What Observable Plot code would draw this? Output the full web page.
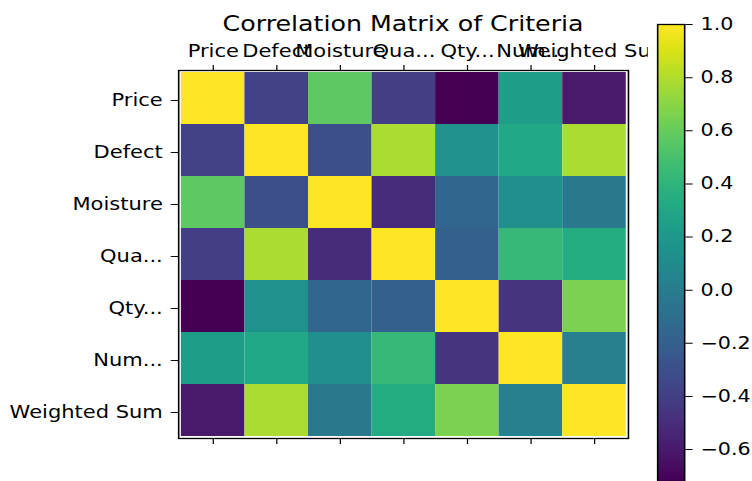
<!DOCTYPE html>
<html>
<head>
<meta charset="utf-8">
<script src="https://cdn.jsdelivr.net/npm/d3@7"></script>
<script src="https://cdn.jsdelivr.net/npm/@observablehq/plot@0.6"></script>
<style>
  html, body { margin: 0; padding: 0; background: white; overflow: hidden; }
  #fig { position: relative; width: 616px; height: 481px; transform: scale(1.2222, 1); transform-origin: 0 0; font-family: "DejaVu Sans", sans-serif; }
  #title { position: absolute; left: 79.8px; width: 500px; top: 13.5px; text-align: center; font-size: 20.7px; line-height: 20px; color: #000; white-space: nowrap; }
  #main { position: absolute; left: 0; top: 0; width: 530px; height: 481px; }
  #cbar { position: absolute; left: 531px; top: 0; width: 100px; height: 481px; }
  svg { max-width: none !important; }
</style>
</head>
<body>
<div id="fig">
  <div id="main"></div>
  <div id="cbar"></div>
  <div id="title">Correlation Matrix of Criteria</div>
</div>
<script>
// ---- data ----
const criteria = ["Price", "Defect", "Moisture", "Qua...", "Qty...", "Num...", "Weighted Sum"];
const rowPrice    = [ 1.00, -0.38,  0.57, -0.41, -0.72,  0.23, -0.60];
const rowDefect   = [-0.38,  1.00, -0.31,  0.78,  0.14,  0.31,  0.78];
const rowMoisture = [ 0.57, -0.31,  1.00, -0.51, -0.15,  0.13, -0.03];
const rowQua      = [-0.41,  0.78, -0.51,  1.00, -0.20,  0.43,  0.33];
const rowQty      = [-0.72,  0.14, -0.15, -0.20,  1.00, -0.46,  0.66];
const rowNum      = [ 0.23,  0.31,  0.13,  0.43, -0.46,  1.00,  0.02];
const rowWeighted = [-0.60,  0.78, -0.03,  0.33,  0.66,  0.02,  1.00];
const colorMin = -0.72;
const colorMax = 1.0;
const colorbarTicks = [-0.6, -0.4, -0.2, 0.0, 0.2, 0.4, 0.6, 0.8, 1.0];

const rows = [rowPrice, rowDefect, rowMoisture, rowQua, rowQty, rowNum, rowWeighted];
const cells = [];
rows.forEach((r, i) => r.forEach((v, j) => cells.push({row: criteria[i], col: criteria[j], value: v})));

const colorScale = {type: "linear", scheme: "viridis", domain: [colorMin, colorMax]};
const font = {fontFamily: "DejaVu Sans, sans-serif", fontSize: "17.2px", color: "black", background: "transparent", maxWidth: "none"};

const main = Plot.plot({
  width: 530,
  height: 481,
  marginLeft: 145.7,
  marginRight: 16.3,
  marginTop: 70,
  marginBottom: 43,
  style: font,
  x: {domain: criteria, padding: 0},
  y: {domain: criteria, padding: 0},
  color: colorScale,
  marks: [
    Plot.cell(cells, {x: "col", y: "row", fill: "value", inset: 0}),
    Plot.frame({stroke: "black", strokeWidth: 1.3}),
    Plot.axisX({anchor: "top", tickSize: 6, tickPadding: 8, label: null, stroke: "black"}),
    Plot.axisX({anchor: "bottom", tickSize: 6, tickFormat: () => "", label: null, stroke: "black"}),
    Plot.axisY({anchor: "left", tickSize: 6, tickPadding: 7, label: null, stroke: "black", dy: 2})
  ]
});
document.getElementById("main").appendChild(main);

const cbar = Plot.plot({
  width: 100,
  height: 481,
  marginLeft: 6.6,
  marginRight: 71.3,
  marginTop: 24,
  marginBottom: 0,
  style: {...font, fontSize: "16.9px", background: "white"},
  x: {domain: [0, 1], axis: null},
  y: {domain: [colorMin, colorMax]},
  color: colorScale,
  marks: [
    Plot.raster({fill: (x, y) => y, x1: 0, x2: 1, y1: colorMin, y2: colorMax, width: 1, height: 300}),
    Plot.frame({stroke: "black", strokeWidth: 1.3}),
    Plot.axisY({anchor: "right", ticks: colorbarTicks, tickFormat: d3.format(".1f"), tickSize: 6, tickPadding: 7, label: null, stroke: "black"})
  ]
});
document.getElementById("cbar").appendChild(cbar);
</script>
</body>
</html>
